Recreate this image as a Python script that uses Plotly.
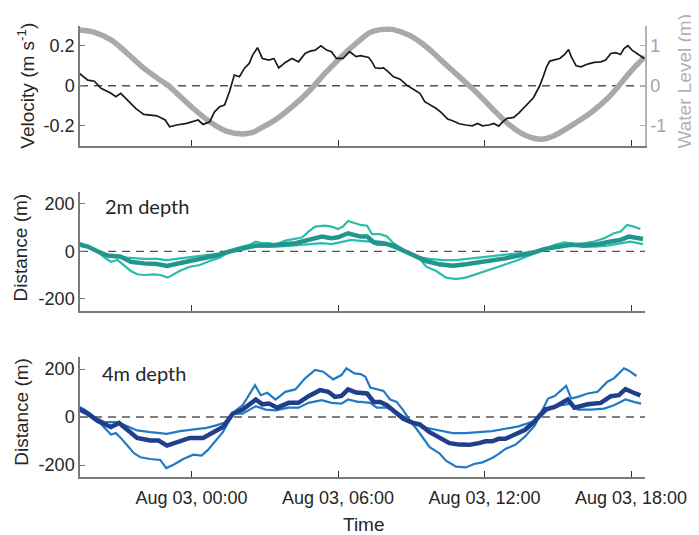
import plotly.graph_objects as go
import pandas as pd

# ---------------- data (hours relative to Aug 03 00:00) ----------------
vel_hours = [-4.59,-4.25,-3.98,-3.71,-3.30,-3.10,-2.90,-2.63,-2.29,-1.96,
             -1.42,-1.08,-0.90,-0.61,-0.20,0.27,0.47,0.74,0.94,1.15,
             1.35,1.55,1.75,1.96,2.16,2.36,2.50,2.70,2.90,3.17,
             3.37,3.57,3.84,4.11,4.38,4.65,4.86,5.06,5.30,5.53,
             5.73,5.93,6.20,6.47,6.74,
             6.92,7.12,7.25,7.39,7.52,7.73,7.86,8.06,8.27,8.54,
             8.81,9.08,9.35,9.55,9.82,10.02,10.22,10.49,10.69,10.96,
             11.23,11.50,11.71,11.91,12.18,12.38,12.58,12.72,12.92,13.19,
             13.39,13.59,13.79,14.00,14.13,14.27,14.40,14.54,14.67,14.87,
             15.08,15.28,15.44,15.55,15.75,15.95,16.22,16.49,16.76,16.96,
             17.17,17.37,17.57,17.71,17.87,18.04,18.24,18.45,18.54]
velocity = [0.062,0.028,0.023,-0.013,-0.038,-0.055,-0.038,-0.072,-0.114,-0.144,
            -0.151,-0.172,-0.206,-0.197,-0.189,-0.172,-0.194,-0.181,-0.131,-0.105,
            -0.097,-0.030,0.054,0.045,0.087,0.112,0.154,0.191,0.137,0.129,
            0.137,0.090,0.117,0.137,0.120,0.162,0.174,0.179,0.201,0.179,
            0.171,0.137,0.137,0.171,0.146,
            0.151,0.146,0.142,0.120,0.090,0.087,0.090,0.070,0.045,0.033,
            0.003,-0.018,-0.038,-0.080,-0.100,-0.114,-0.134,-0.167,-0.176,-0.191,
            -0.197,-0.201,-0.189,-0.201,-0.197,-0.189,-0.203,-0.184,-0.164,-0.159,
            -0.139,-0.114,-0.089,-0.060,-0.030,0.003,0.045,0.095,0.124,0.129,
            0.137,0.157,0.182,0.146,0.100,0.095,0.109,0.117,0.120,0.129,
            0.162,0.166,0.157,0.187,0.201,0.179,0.162,0.146,0.137]

wl_hours = [-4.57,-3.98,-3.30,-2.63,-1.96,-1.28,-0.94,-0.61,0.07,0.74,
            1.42,2.09,2.50,2.76,3.44,4.11,4.79,5.46,6.14,6.81,
            7.32,7.73,8.00,8.27,8.94,9.61,10.29,10.96,11.37,11.64,
            12.31,12.99,13.66,14.33,14.74,15.01,15.68,16.36,17.03,17.50,
            17.97,18.57]
water_level = [1.40,1.34,1.15,0.81,0.44,0.14,0.0,-0.19,-0.57,-0.90,
               -1.14,-1.21,-1.17,-1.09,-0.85,-0.53,-0.15,0.31,0.73,1.10,
               1.34,1.41,1.42,1.41,1.26,0.98,0.60,0.23,0.0,-0.15,
               -0.57,-0.97,-1.24,-1.34,-1.28,-1.20,-0.95,-0.67,-0.32,0.0,
               0.35,0.73]

# 2 m depth
d2_hi_hours = [-4.65,-4.38,-4.11,-3.84,-3.57,-3.30,-3.03,-2.76,-2.49,-2.23,
               -1.96,-1.55,-1.28,-0.98,-0.74,-0.47,-0.07,0.34,0.74,1.15,
               1.55,1.82,2.09,2.36,2.63,2.90,3.17,3.44,3.84,4.25,
               4.52,4.79,5.06,5.46,5.73,6.00,6.20,6.41,6.67,
               6.92,7.19,7.39,7.73,8.00,8.27,8.67,9.08,9.34,9.61,
               10.02,10.42,10.83,11.23,11.64,12.04,12.45,12.85,13.26,13.66,
               14.06,14.47,14.87,15.28,15.68,16.09,16.49,16.90,17.30,17.57,
               17.84,18.11,18.38]
d2_hi = [38,24,15,-1,-27,-44,-37,-58,-83,-97,
         -100,-97,-100,-111,-97,-82,-65,-58,-41,-27,
         -1,13,20,27,41,34,34,27,45,52,
         58,83,104,108,104,94,104,128,118,
         111,108,72,72,62,34,6,-15,-32,-65,
         -83,-111,-117,-111,-97,-83,-69,-58,-41,-25,
         -8,8,27,38,30,34,41,55,76,83,
         111,104,94]

d2_mean_hours = [-4.65,-4.25,-3.84,-3.44,-2.90,-2.49,-1.96,-1.42,-1.01,-0.61,
                 -0.07,0.47,1.01,1.55,2.09,2.63,3.17,3.71,4.25,4.79,
                 5.33,5.73,6.00,6.41,6.81,
                 6.92,7.19,7.46,7.86,8.27,8.67,9.08,9.61,10.15,10.69,
                 11.23,11.77,12.31,12.85,13.39,13.93,14.47,15.01,15.55,16.09,
                 16.63,17.17,17.57,17.91,18.24,18.49]
d2_mean = [30,20,-1,-18,-23,-44,-51,-54,-62,-51,
           -41,-30,-18,-1,13,24,24,27,34,48,
           62,55,59,76,66,
           62,62,38,34,24,3,-18,-41,-55,-61,
           -55,-46,-41,-30,-18,-8,10,20,27,24,
           30,41,48,62,58,52]

d2_lo_hours = [-4.65,-4.11,-3.71,-3.17,-2.63,-1.96,-1.42,-1.01,-0.47,0.07,
               0.74,1.28,1.69,2.23,2.76,3.44,4.11,4.79,5.33,5.73,
               6.14,6.54,
               6.92,7.32,7.59,8.00,8.27,8.67,9.21,9.75,10.29,10.83,
               11.50,12.18,12.85,13.52,14.06,14.60,15.14,15.55,15.95,16.49,
               17.03,17.57,17.97,18.49]
d2_lo = [27,13,-8,-20,-27,-32,-32,-37,-30,-23,
         -13,-8,1,13,20,20,24,30,34,30,
         38,48,
         44,41,27,27,15,-1,-23,-32,-37,-37,
         -30,-23,-15,-8,-1,15,24,34,20,20,
         24,34,41,30]

# 4 m depth
d4_hi_hours = [-4.65,-4.38,-4.11,-3.84,-3.57,-3.30,-3.10,-2.90,-2.63,-2.36,
               -2.09,-1.69,-1.28,-1.04,-0.74,-0.34,0.07,0.41,0.67,1.01,
               1.28,1.55,1.82,2.09,2.36,2.60,2.83,3.10,3.44,3.84,
               4.25,4.65,5.06,5.39,5.80,6.14,6.34,6.67,
               6.92,7.12,7.32,7.59,7.86,8.13,8.40,8.67,8.94,9.21,
               9.48,9.75,10.15,10.42,10.83,11.23,11.57,11.91,12.31,12.58,
               12.85,13.26,13.66,14.06,14.33,14.60,14.87,15.14,15.34,15.55,
               15.82,16.22,16.63,17.03,17.30,17.71,17.91,18.22]
d4_hi = [45,31,11,-14,-45,-73,-67,-87,-119,-151,
         -168,-175,-179,-213,-199,-175,-157,-161,-137,-98,
         -63,-14,28,49,91,133,91,101,73,105,
         115,161,196,189,157,175,203,182,
         179,168,123,115,109,73,63,28,-14,-49,
         -87,-126,-151,-182,-207,-210,-196,-189,-171,-154,
         -133,-116,-81,-35,21,77,87,112,130,77,
         84,98,105,147,161,203,193,171]

d4_mean_hours = [-4.65,-4.25,-3.84,-3.30,-2.97,-2.63,-2.23,-1.69,-1.35,-1.01,
                 -0.61,-0.07,0.47,0.88,1.28,1.69,2.09,2.63,2.90,3.17,
                 3.51,3.98,4.38,4.79,5.26,5.60,5.87,6.14,6.41,6.74,
                 6.92,7.19,7.46,7.73,8.00,8.27,8.67,9.08,9.34,9.75,
                 10.15,10.56,10.96,11.37,11.77,12.04,12.31,12.58,12.85,13.26,
                 13.66,14.06,14.47,14.87,15.41,15.68,16.22,16.76,17.17,17.50,
                 17.77,18.11,18.38]
d4_mean = [35,14,-17,-42,-25,-56,-87,-98,-98,-119,
           -105,-87,-87,-63,-42,14,31,73,53,56,
           39,59,59,87,112,105,84,88,115,102,
           101,98,63,63,49,28,-7,-25,-31,-63,
           -87,-109,-115,-116,-109,-101,-101,-91,-91,-70,
           -53,-17,31,42,73,39,53,59,87,91,
           116,101,90]

d4_lo_hours = [-4.65,-4.11,-3.57,-3.03,-2.63,-2.23,-1.69,-1.01,-0.47,0.07,
               0.61,1.01,1.42,1.69,2.09,2.63,3.03,3.44,3.98,4.38,
               4.79,5.33,5.73,6.14,6.41,6.81,
               6.92,7.32,7.59,8.00,8.40,8.81,9.21,9.61,10.15,10.69,
               11.23,11.77,12.31,12.85,13.39,13.93,14.27,14.60,15.14,15.55,
               15.82,16.36,16.90,17.30,17.77,18.11,18.41]
d4_lo = [39,7,-21,-21,-39,-56,-63,-70,-59,-53,
         -45,-35,-21,14,14,45,31,28,39,39,
         59,70,59,56,73,63,
         63,59,39,39,21,-7,-28,-45,-56,-67,
         -67,-63,-59,-49,-39,-21,0,31,49,56,
         31,31,35,49,73,63,56]

x_tick_hours = [0, 6, 12, 18]
x_tick_labels = ["Aug 03, 00:00", "Aug 03, 06:00", "Aug 03, 12:00", "Aug 03, 18:00"]
x_range_hours = [-4.57, 18.57]

BASE = pd.Timestamp("2016-08-03 00:00")


def tt(hours):
    return list(BASE + pd.to_timedelta(hours, unit="h"))


FONT = "Liberation Sans, Arial, Helvetica, sans-serif"
TXT = "#262626"
AX = "#7a7a7a"
GRAY = "#a9a9ab"

TEAL_THIN = "#2bbcab"
TEAL_THICK = "#20968c"
BLUE_THIN = "#2479c4"
BLUE_THICK = "#1f3f8a"

fig = go.Figure()

# top panel: water level (primary, right) + velocity (overlay, left)
fig.add_trace(go.Scatter(x=tt(wl_hours), y=water_level, mode="lines",
                         line=dict(color=GRAY, width=5.5, shape="spline", smoothing=1.0),
                         xaxis="x", yaxis="y", showlegend=False))
fig.add_trace(go.Scatter(x=tt(vel_hours), y=velocity, mode="lines",
                         line=dict(color="#1a1a1a", width=1.7),
                         xaxis="x", yaxis="y2", showlegend=False))

# 2m depth
for h, v, c, w in [(d2_hi_hours, d2_hi, TEAL_THIN, 2.2),
                   (d2_lo_hours, d2_lo, TEAL_THIN, 2.2),
                   (d2_mean_hours, d2_mean, TEAL_THICK, 4.5)]:
    fig.add_trace(go.Scatter(x=tt(h), y=v, mode="lines", line=dict(color=c, width=w),
                             xaxis="x2", yaxis="y3", showlegend=False))

# 4m depth
for h, v, c, w in [(d4_hi_hours, d4_hi, BLUE_THIN, 2.2),
                   (d4_lo_hours, d4_lo, BLUE_THIN, 2.2),
                   (d4_mean_hours, d4_mean, BLUE_THICK, 4.5)]:
    fig.add_trace(go.Scatter(x=tt(h), y=v, mode="lines", line=dict(color=c, width=w),
                             xaxis="x3", yaxis="y4", showlegend=False))

xr = tt(x_range_hours)
xt = tt(x_tick_hours)

xbase = dict(range=xr, tickvals=xt, ticktext=x_tick_labels, ticks="inside", ticklen=6,
             tickcolor="#333333", tickwidth=1.2, showline=True, linecolor=AX, linewidth=1.5,
             showgrid=False, zeroline=False, domain=[0, 1],
             tickfont=dict(family=FONT, size=18, color=TXT))

ybase = dict(ticks="inside", ticklen=5, tickcolor=AX, tickwidth=1.2, showline=True,
             linecolor=AX, linewidth=1.5, showgrid=False, zeroline=False,
             tickfont=dict(family=FONT, size=18, color=TXT))

# page body has an 8px margin: figure is drawn at (8, 8) in the window
fig.update_layout(
    width=691, height=527,
    margin=dict(l=72, r=47, t=18, b=58),
    paper_bgcolor="white", plot_bgcolor="white",
    font=dict(family=FONT, color=TXT),
    xaxis=dict(xbase, anchor="y", showticklabels=False),
    xaxis2=dict(xbase, anchor="y3", showticklabels=False),
    xaxis3=dict(xbase, anchor="y4", showticklabels=True, ticklabelstandoff=4),
    yaxis=dict(ybase, domain=[0.735, 1.0], anchor="x", side="right", range=[-1.5, 1.5],
               tickvals=[-1, 0, 1], ticktext=["-1", "0", "1"], linecolor="#b5b5b5",
               tickcolor="#b5b5b5", tickfont=dict(family=FONT, size=18, color="#a5a5a5")),
    yaxis2=dict(ybase, overlaying="y", anchor="x", side="left", range=[-0.3, 0.3],
                tickvals=[-0.2, 0, 0.2], ticktext=["-0.2", "0", "0.2"]),
    yaxis3=dict(ybase, domain=[0.369, 0.632], anchor="x2", range=[-250, 250],
                tickvals=[-200, 0, 200], ticktext=["-200", "0", "200"]),
    yaxis4=dict(ybase, domain=[0.0, 0.266], anchor="x3", range=[-250, 250],
                tickvals=[-200, 0, 200], ticktext=["-200", "0", "200"]),
)

# dashed zero lines
for yref, xref in [("y2", "x domain"), ("y3", "x2 domain"), ("y4", "x3 domain")]:
    fig.add_shape(type="line", xref=xref, yref=yref, x0=0, x1=1, y0=0, y1=0,
                  line=dict(color="#555555", width=1.3, dash="8px,6px"), layer="below")

ann = [
    dict(text="Velocity (m s<sup>-1</sup>)", x=-0.0962, y=0.867, textangle=-90,
         font=dict(family=FONT, size=19, color=TXT)),
    dict(text="Water Level (m)", x=1.070, y=0.876, textangle=-90,
         font=dict(family=FONT, size=19, color="#b0b0b0")),
    dict(text="Distance (m)", x=-0.105, y=0.508, textangle=-90,
         font=dict(family=FONT, size=19, color=TXT)),
    dict(text="Distance (m)", x=-0.105, y=0.144, textangle=-90,
         font=dict(family=FONT, size=19, color=TXT)),
    dict(text="Time", x=0.5035, y=-0.106, font=dict(family=FONT, size=19, color=TXT)),
]
for a in ann:
    fig.add_annotation(xref="paper", yref="paper", showarrow=False,
                       xanchor="center", yanchor="middle", **a)

fig.add_annotation(text="2m depth", xref="paper", yref="paper", x=0.0402, y=0.601,
                   xanchor="left", yanchor="middle", showarrow=False,
                   font=dict(family="Lato, sans-serif", size=20, color=TXT))
fig.add_annotation(text="4m depth", xref="paper", yref="paper", x=0.035, y=0.2306,
                   xanchor="left", yanchor="middle", showarrow=False,
                   font=dict(family="Lato, sans-serif", size=20, color=TXT))

fig.write_html("out.html")
